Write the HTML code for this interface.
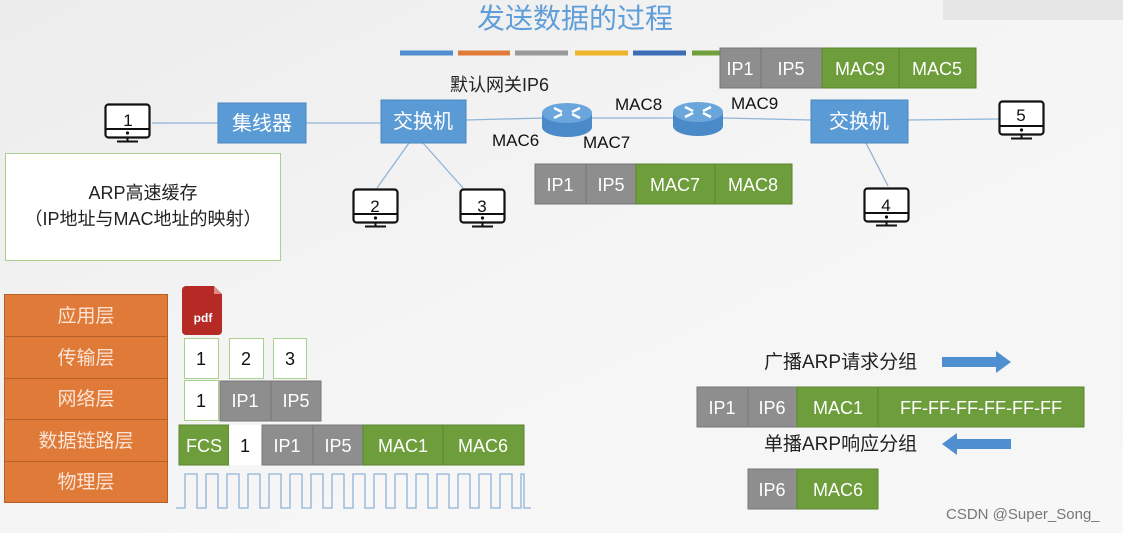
<!DOCTYPE html>
<html><head><meta charset="utf-8"><style>
html,body{margin:0;padding:0;background:#f3f3f3;}
svg{display:block;font-family:"Liberation Sans","Noto Sans CJK SC",sans-serif;}
</style></head><body>
<svg width="1123" height="533" viewBox="0 0 1123 533" xmlns="http://www.w3.org/2000/svg">
<defs>
<linearGradient id="bg" x1="0" y1="0" x2="1" y2="1"><stop offset="0" stop-color="#ececec"/><stop offset="0.5" stop-color="#f5f5f5"/><stop offset="1" stop-color="#f7f7f7"/></linearGradient>
<g id="mon"><rect x="1.5" y="1.5" width="44" height="33" rx="3" fill="#fff" stroke="#111" stroke-width="2.2"/><line x1="1.5" y1="26" x2="45.5" y2="26" stroke="#111" stroke-width="2"/><circle cx="23.5" cy="30" r="1.6" fill="#111"/><line x1="23.5" y1="34" x2="23.5" y2="38" stroke="#111" stroke-width="2"/><line x1="13" y1="38.5" x2="34" y2="38.5" stroke="#111" stroke-width="2"/></g>
<g id="rt"><path d="M0,10 L0,24 A25,10 0 0 0 50,24 L50,10 Z" fill="#4a8ac8"/><ellipse cx="25" cy="10" rx="25" ry="10" fill="#6aa6dc"/><g stroke="#fff" stroke-width="2.5" fill="none"><line x1="12" y1="5" x2="20" y2="9"/><line x1="38" y1="5" x2="30" y2="9"/><line x1="12" y1="15" x2="20" y2="11"/><line x1="38" y1="15" x2="30" y2="11"/></g></g>
</defs>
<rect width="1123" height="533" fill="url(#bg)"/>
<rect x="943" y="0" width="180" height="20" fill="#e6e6e6"/>
<text x="575" y="28" font-size="28" fill="#5f9ed8" text-anchor="middle">发送数据的过程</text>
<g stroke-width="5"><line x1="400" y1="53" x2="453" y2="53" stroke="#4f8fd0"/><line x1="458" y1="53" x2="510" y2="53" stroke="#e07b39"/><line x1="515" y1="53" x2="568" y2="53" stroke="#999"/><line x1="575" y1="53" x2="628" y2="53" stroke="#f0b429"/><line x1="633" y1="53" x2="686" y2="53" stroke="#3b6cb5"/><line x1="692" y1="53" x2="720" y2="53" stroke="#70a03a"/></g>
<!-- lines -->
<g stroke="#8fb4d8" stroke-width="1.3"><line x1="152" y1="123" x2="218" y2="123"/><line x1="306" y1="123" x2="381" y2="123"/><line x1="466" y1="120" x2="545" y2="118"/><line x1="592" y1="118" x2="673" y2="118"/><line x1="723" y1="118" x2="811" y2="120"/><line x1="908" y1="120" x2="999" y2="119"/><line x1="409" y1="143" x2="377" y2="188"/><line x1="423" y1="143" x2="463" y2="188"/><line x1="866" y1="143" x2="888" y2="186"/></g>
<!-- top packet -->
<g font-size="18" fill="#fff" text-anchor="middle">
<rect x="720" y="48" width="41" height="40" fill="#8e8e8e" stroke="#777"/><text x="740" y="75">IP1</text>
<rect x="761" y="48" width="61" height="40" fill="#8e8e8e" stroke="#777"/><text x="791" y="75">IP5</text>
<rect x="822" y="48" width="77" height="40" fill="#6e9d3c" stroke="#5a8530"/><text x="860" y="75">MAC9</text>
<rect x="899" y="48" width="77" height="40" fill="#6e9d3c" stroke="#5a8530"/><text x="937" y="75">MAC5</text>
</g>
<text x="450" y="91" font-size="18" fill="#222">默认网关IP6</text>
<use href="#mon" x="104" y="103"/><text x="128" y="126" font-size="17" text-anchor="middle" fill="#111">1</text>
<g font-size="20" fill="#fff" text-anchor="middle">
<rect x="218" y="103" width="88" height="40" fill="#5b9bd5" stroke="#4a85bd"/><text x="262" y="130">集线器</text>
<rect x="381" y="100" width="85" height="43" fill="#5b9bd5" stroke="#4a85bd"/><text x="423" y="128">交换机</text>
<rect x="811" y="100" width="97" height="43" fill="#5b9bd5" stroke="#4a85bd"/><text x="859" y="128">交换机</text>
</g>
<use href="#rt" x="542" y="103"/><use href="#rt" x="673" y="102"/>
<g font-size="17" fill="#111"><text x="492" y="146">MAC6</text><text x="583" y="148">MAC7</text><text x="615" y="110">MAC8</text><text x="731" y="109">MAC9</text></g>
<use href="#mon" x="998" y="100"/><text x="1021" y="121" font-size="17" text-anchor="middle" fill="#111">5</text>
<use href="#mon" x="352" y="188"/><text x="375" y="212" font-size="17" text-anchor="middle" fill="#111">2</text>
<use href="#mon" x="459" y="188"/><text x="482" y="212" font-size="17" text-anchor="middle" fill="#111">3</text>
<use href="#mon" x="863" y="187"/><text x="886" y="211" font-size="17" text-anchor="middle" fill="#111">4</text>
<!-- middle packet -->
<g font-size="18" fill="#fff" text-anchor="middle">
<rect x="535" y="164" width="51" height="40" fill="#8e8e8e" stroke="#777"/><text x="560" y="191">IP1</text>
<rect x="586" y="164" width="50" height="40" fill="#8e8e8e" stroke="#777"/><text x="611" y="191">IP5</text>
<rect x="636" y="164" width="79" height="40" fill="#6e9d3c" stroke="#5a8530"/><text x="675" y="191">MAC7</text>
<rect x="715" y="164" width="77" height="40" fill="#6e9d3c" stroke="#5a8530"/><text x="753" y="191">MAC8</text>
</g>
<rect x="5.5" y="153.5" width="275" height="107" fill="#fff" stroke="#a9cf8f"/>
<text x="143" y="199" font-size="18" text-anchor="middle" fill="#222">ARP高速缓存</text>
<text x="143" y="225" font-size="18" text-anchor="middle" fill="#222">（IP地址与MAC地址的映射）</text>
<!-- layers -->
<g font-size="19" fill="#fbe4d5" text-anchor="middle">
<rect x="4.5" y="294.5" width="163" height="42" fill="#e07a38" stroke="#b56028"/><text x="86" y="322">应用层</text>
<rect x="4.5" y="336.5" width="163" height="42" fill="#e07a38" stroke="#b56028"/><text x="86" y="364">传输层</text>
<rect x="4.5" y="378.5" width="163" height="41" fill="#e07a38" stroke="#b56028"/><text x="86" y="405">网络层</text>
<rect x="4.5" y="419.5" width="163" height="42" fill="#e07a38" stroke="#b56028"/><text x="86" y="447">数据链路层</text>
<rect x="4.5" y="461.5" width="163" height="41" fill="#e07a38" stroke="#b56028"/><text x="86" y="488">物理层</text>
</g>
<path d="M186,286 h28 l8,8 v37 a4,4 0 0 1 -4,4 h-32 a4,4 0 0 1 -4,-4 v-41 a4,4 0 0 1 4,-4 z" fill="#b52a25"/><path d="M214,286 l8,8 h-8 z" fill="#e08a86"/>
<text x="203" y="322" font-size="12" font-weight="bold" fill="#fff" text-anchor="middle">pdf</text>
<g font-size="18" text-anchor="middle">
<rect x="184.5" y="338.5" width="34" height="40" fill="#fff" stroke="#a9cf8f"/><text x="201" y="365" fill="#111">1</text>
<rect x="229.5" y="338.5" width="34" height="40" fill="#fff" stroke="#a9cf8f"/><text x="246" y="365" fill="#111">2</text>
<rect x="273.5" y="338.5" width="33" height="40" fill="#fff" stroke="#a9cf8f"/><text x="290" y="365" fill="#111">3</text>
<rect x="184.5" y="380.5" width="34" height="40" fill="#fff" stroke="#a9cf8f"/><text x="201" y="407" fill="#111">1</text>
<rect x="220" y="381" width="51" height="40" fill="#8e8e8e" stroke="#777"/><text x="245" y="407" fill="#fff">IP1</text>
<rect x="271" y="381" width="50" height="40" fill="#8e8e8e" stroke="#777"/><text x="296" y="407" fill="#fff">IP5</text>
<rect x="179" y="425" width="50" height="40" fill="#6e9d3c" stroke="#5a8530"/><text x="204" y="452" fill="#fff">FCS</text>
<rect x="229" y="425" width="33" height="40" fill="#fff"/><text x="245" y="452" fill="#111">1</text>
<rect x="262" y="425" width="51" height="40" fill="#8e8e8e" stroke="#777"/><text x="287" y="452" fill="#fff">IP1</text>
<rect x="313" y="425" width="50" height="40" fill="#8e8e8e" stroke="#777"/><text x="338" y="452" fill="#fff">IP5</text>
<rect x="363" y="425" width="80" height="40" fill="#6e9d3c" stroke="#5a8530"/><text x="403" y="452" fill="#fff">MAC1</text>
<rect x="443" y="425" width="81" height="40" fill="#6e9d3c" stroke="#5a8530"/><text x="483" y="452" fill="#fff">MAC6</text>
</g>
<path id="wave" fill="none" stroke="#8fb4d8" stroke-width="1.3" d="M176,508 H185 V474 H197 V508 H206 V474 H218 V508 H227 V474 H239 V508 H248 V474 H260 V508 H269 V474 H281 V508 H290 V474 H302 V508 H311 V474 H323 V508 H332 V474 H344 V508 H353 V474 H365 V508 H374 V474 H386 V508 H395 V474 H407 V508 H416 V474 H428 V508 H437 V474 H449 V508 H458 V474 H470 V508 H479 V474 H491 V508 H500 V474 H512 V508 H521 V474 H524 V508 H531"/>
<!-- right bottom -->
<text x="764" y="368" font-size="19" fill="#222">广播ARP请求分组</text>
<path d="M942,357 H996 V351 L1011,362 L996,373 V367 H942 Z" fill="#4f8fd0"/>
<g font-size="18" fill="#fff" text-anchor="middle">
<rect x="697" y="387" width="51" height="40" fill="#8e8e8e" stroke="#777"/><text x="722" y="414">IP1</text>
<rect x="748" y="387" width="49" height="40" fill="#8e8e8e" stroke="#777"/><text x="772" y="414">IP6</text>
<rect x="797" y="387" width="81" height="40" fill="#6e9d3c" stroke="#5a8530"/><text x="838" y="414">MAC1</text>
<rect x="878" y="387" width="206" height="40" fill="#6e9d3c" stroke="#5a8530"/><text x="981" y="414">FF-FF-FF-FF-FF-FF</text>
<rect x="748" y="469" width="49" height="40" fill="#8e8e8e" stroke="#777"/><text x="772" y="496">IP6</text>
<rect x="797" y="469" width="81" height="40" fill="#6e9d3c" stroke="#5a8530"/><text x="838" y="496">MAC6</text>
</g>
<text x="764" y="450" font-size="19" fill="#222">单播ARP响应分组</text>
<path d="M1011,439 H957 V433 L942,444 L957,455 V449 H1011 Z" fill="#4f8fd0"/>
<text x="946" y="519" font-size="15" fill="#777">CSDN @Super_Song_</text>
</svg>
</body></html>
